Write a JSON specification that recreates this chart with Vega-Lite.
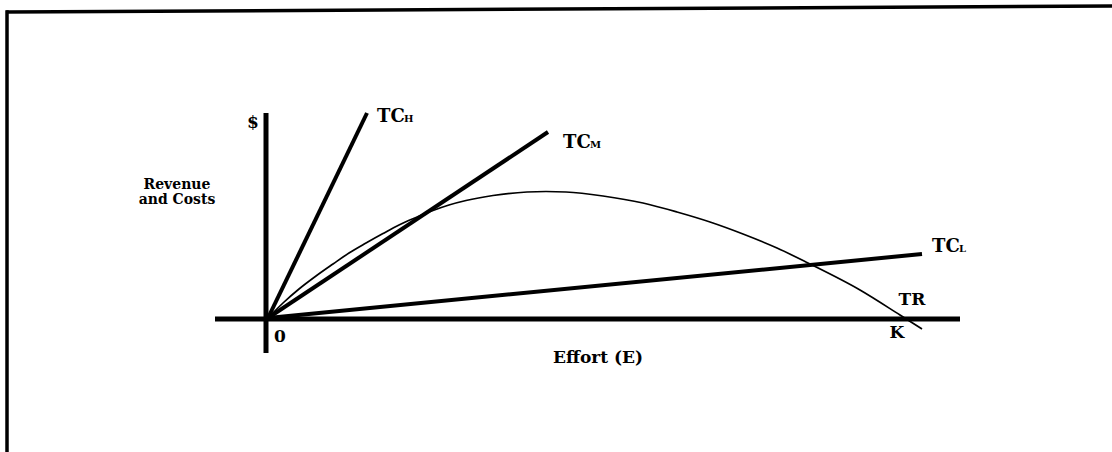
{
  "$schema": "https://vega.github.io/schema/vega-lite/v6.json",
  "width": 1112,
  "height": 452,
  "padding": 0,
  "autosize": {"type": "none"},
  "background": "white",
  "config": {"view": {"stroke": null}},
  "datasets": {
    "lines": [
      {"series": "axisE", "E": -51, "R": 0},
      {"series": "axisE", "E": 694, "R": 0},
      {"series": "axisR", "E": 0, "R": 206},
      {"series": "axisR", "E": 0, "R": -34},
      {"series": "TC_H", "E": 2, "R": 1},
      {"series": "TC_H", "E": 101, "R": 206},
      {"series": "TC_M", "E": 2, "R": 1},
      {"series": "TC_M", "E": 282, "R": 187},
      {"series": "TC_L", "E": 2, "R": 1},
      {"series": "TC_L", "E": 656, "R": 65},
      {"series": "TR", "E": 2, "R": 1},
      {"series": "TR", "E": 17, "R": 16},
      {"series": "TR", "E": 33, "R": 30},
      {"series": "TR", "E": 50, "R": 43},
      {"series": "TR", "E": 67, "R": 55},
      {"series": "TR", "E": 83, "R": 66},
      {"series": "TR", "E": 100, "R": 76},
      {"series": "TR", "E": 117, "R": 85.5},
      {"series": "TR", "E": 133, "R": 94},
      {"series": "TR", "E": 150, "R": 101.5},
      {"series": "TR", "E": 167, "R": 108.5},
      {"series": "TR", "E": 183, "R": 114},
      {"series": "TR", "E": 200, "R": 118.5},
      {"series": "TR", "E": 227, "R": 123.5},
      {"series": "TR", "E": 261, "R": 127},
      {"series": "TR", "E": 280, "R": 127.5},
      {"series": "TR", "E": 300, "R": 127},
      {"series": "TR", "E": 337, "R": 123},
      {"series": "TR", "E": 377, "R": 116},
      {"series": "TR", "E": 411, "R": 107},
      {"series": "TR", "E": 444, "R": 97},
      {"series": "TR", "E": 477, "R": 85},
      {"series": "TR", "E": 511, "R": 71},
      {"series": "TR", "E": 542, "R": 56},
      {"series": "TR", "E": 594, "R": 29},
      {"series": "TR", "E": 634, "R": 4},
      {"series": "TR", "E": 656, "R": -10},
      {"series": "frameTop", "E": -258, "R": 307},
      {"series": "frameTop", "E": 846, "R": 313},
      {"series": "frameLeft", "E": -259, "R": 307},
      {"series": "frameLeft", "E": -259, "R": -133}
    ],
    "labels": [
      {"kind": "tc", "text": "TC", "E": 111, "R": 197},
      {"kind": "sub", "text": "H", "E": 138, "R": 197},
      {"kind": "tc", "text": "TC", "E": 297, "R": 171},
      {"kind": "sub", "text": "M", "E": 324, "R": 171},
      {"kind": "tc", "text": "TC", "E": 666, "R": 67},
      {"kind": "sub", "text": "L", "E": 693, "R": 67},
      {"kind": "mid", "text": "TR", "E": 646, "R": 14},
      {"kind": "mid", "text": "K", "E": 631, "R": -19},
      {"kind": "mid", "text": "0", "E": 14, "R": -23},
      {"kind": "mid", "text": "$", "E": -13, "R": 191},
      {"kind": "small", "text": "Revenue", "E": -89, "R": 130},
      {"kind": "small", "text": "and Costs", "E": -89, "R": 115},
      {"kind": "mid", "text": "Effort (E)", "E": 332, "R": -44}
    ]
  },
  "encoding": {
    "x": {"field": "E", "type": "quantitative", "scale": {"domain": [-266, 846], "nice": false, "zero": false}, "axis": null},
    "y": {"field": "R", "type": "quantitative", "scale": {"domain": [-133, 319], "nice": false, "zero": false}, "axis": null}
  },
  "layer": [
    {
      "data": {"name": "lines"},
      "transform": [{"filter": "datum.series === 'frameTop' || datum.series === 'frameLeft'"}],
      "mark": {"type": "line", "color": "black", "strokeWidth": 3.5, "strokeCap": "square"},
      "encoding": {"detail": {"field": "series"}}
    },
    {
      "data": {"name": "lines"},
      "transform": [{"filter": "datum.series === 'axisE' || datum.series === 'axisR'"}],
      "mark": {"type": "line", "color": "black", "strokeWidth": 5, "strokeCap": "butt"},
      "encoding": {"detail": {"field": "series"}}
    },
    {
      "data": {"name": "lines"},
      "transform": [{"filter": "datum.series === 'TC_H' || datum.series === 'TC_M' || datum.series === 'TC_L'"}],
      "mark": {"type": "line", "color": "black", "strokeWidth": 4, "strokeCap": "butt"},
      "encoding": {"detail": {"field": "series"}}
    },
    {
      "data": {"name": "lines"},
      "transform": [{"filter": "datum.series === 'TR'"}],
      "mark": {"type": "line", "color": "black", "strokeWidth": 1.7, "interpolate": "monotone"},
      "encoding": {"detail": {"field": "series"}}
    },
    {
      "data": {"name": "labels"},
      "transform": [{"filter": "datum.kind === 'tc'"}],
      "mark": {"type": "text", "font": "DejaVu Serif", "fontWeight": "bold", "fontSize": 18, "align": "left", "baseline": "alphabetic", "color": "black"},
      "encoding": {"text": {"field": "text"}}
    },
    {
      "data": {"name": "labels"},
      "transform": [{"filter": "datum.kind === 'sub'"}],
      "mark": {"type": "text", "font": "DejaVu Serif", "fontWeight": "bold", "fontSize": 10, "align": "left", "baseline": "alphabetic", "color": "black"},
      "encoding": {"text": {"field": "text"}}
    },
    {
      "data": {"name": "labels"},
      "transform": [{"filter": "datum.kind === 'mid'"}],
      "mark": {"type": "text", "font": "DejaVu Serif", "fontWeight": "bold", "fontSize": 17, "align": "center", "baseline": "alphabetic", "color": "black"},
      "encoding": {"text": {"field": "text"}}
    },
    {
      "data": {"name": "labels"},
      "transform": [{"filter": "datum.kind === 'small'"}],
      "mark": {"type": "text", "font": "DejaVu Serif", "fontWeight": "bold", "fontSize": 14, "align": "center", "baseline": "alphabetic", "color": "black"},
      "encoding": {"text": {"field": "text"}}
    }
  ]
}
